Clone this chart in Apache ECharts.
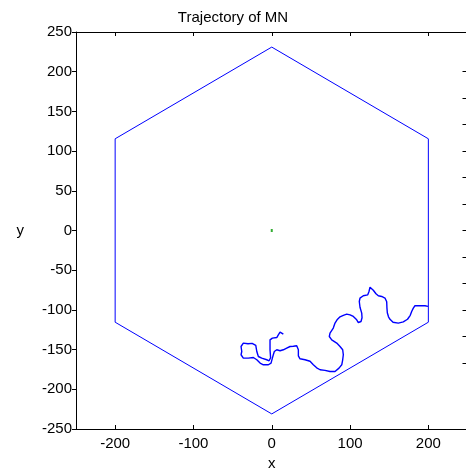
<!DOCTYPE html>
<html lang="en">
<head>
    <meta charset="utf-8">
    <title>Trajectory of MN</title>
    <script src="https://cdn.jsdelivr.net/npm/echarts@6/dist/echarts.min.js"></script>
    <style>
        html, body { margin: 0; padding: 0; background: #fff; }
        #main { width: 466px; height: 470px; }
    </style>
</head>
<body>
<div id="main"></div>
<script>
    // tick values
    var xTicks = [-200, -100, 0, 100, 200];
    var rightTicks = [-166.67, -133.33, -100, -66.67, -33.33, 0, 33.33, 66.67, 100, 133.33, 166.67, 200];

    // hexagon boundary (closed)
    var hexX = [0, 200, 200, 0, -200, -200, 0];
    var hexY = [231, 115.5, -115.5, -231, -115.5, 115.5, 231];

    // centre point
    var centreX = [0];
    var centreY = [0];

    // trajectory
    var trajX = [14.8, 10.6, 8.4, 6.4, 0.8, -2.2, -2.2, -1.5, -3.4, -6.4, -12.8, -17.1, -19.1, -20.4, -25.1, -30.3, -36.3, -39.2, -38.3, -39.2,
        -36.3, -29.9, -23.5, -19.1, -14.9, -10.7, -4.3, -0.9, 0.8, 2.0, 3.3, 6.4, 10.6, 14.8, 19.1, 23.4, 27.6, 31.9, 34.0, 34.0,
        36.1, 42.5, 48.9, 53.1, 57.4, 61.7, 68.0, 74.4, 80.8, 85.9, 89.4, 90.6, 91.4, 90.6, 87.2, 83.0, 76.6, 73.5, 74.4, 78.6,
        80.8, 83.4, 87.2, 91.4, 95.7, 100.0, 104.2, 108.5, 110.6, 114.0, 115.3, 114.9, 112.7, 111.8, 112.7, 116.9, 122.6, 124.2, 125.5, 127.7,
        129.7, 133.1, 136.1, 140.4, 144.6, 146.8, 147.1, 147.6, 149.1, 151.0, 154.9, 161.6, 168.0, 173.4, 176.9, 178.7, 180.8, 182.9, 189.3, 195.7, 199.5];
    var trajY = [-130.5, -128.0, -131.4, -134.8, -135.5, -137.7, -150.2, -160.3, -164.1, -162.8, -160.7, -158.7, -152.4, -144.8, -142.1, -142.7, -141.8, -146.1, -152.4, -156.5,
        -160.7, -160.7, -159.9, -162.8, -167.0, -169.1, -169.1, -167.0, -160.7, -156.5, -152.4, -150.2, -151.5, -150.2, -148.1, -146.1, -145.8, -145.2, -150.2, -157.8,
        -161.6, -162.8, -164.7, -169.1, -172.9, -175.4, -176.1, -177.6, -177.6, -173.3, -169.1, -162.8, -156.5, -150.2, -146.1, -141.8, -137.7, -133.5, -129.2, -122.9,
        -116.6, -112.5, -108.7, -106.8, -105.3, -106.2, -108.3, -112.5, -115.9, -114.6, -109.9, -104.0, -96.7, -89.4, -85.1, -82.2, -81.0, -76.8, -71.5, -70.9,
        -75.3, -79.7, -82.2, -83.1, -85.1, -89.8, -97.4, -103.6, -108.7, -111.8, -115.6, -116.6, -115.0, -111.8, -106.8, -102.0, -97.7, -94.8, -94.6, -94.8, -95.5];

    function pairs(xs, ys) {
        var out = [];
        for (var i = 0; i < xs.length; i++) {
            out.push([xs[i], ys[i]]);
        }
        return out;
    }

    var font = 'Liberation Sans, Arial, sans-serif';
    var myChart = echarts.init(document.getElementById('main'));
    var option = {
        animation: false,
        backgroundColor: '#fff',
        title: {
            text: 'Trajectory of MN',
            left: 'center',
            top: 5,
            textStyle: { fontFamily: font, fontSize: 15, fontWeight: 'normal', color: '#000' }
        },
        grid: {
            left: 76,
            top: 32,
            width: 391.5,
            height: 397,
            containLabel: false,
            outerBoundsMode: 'none'
        },
        xAxis: [
            {
                type: 'value',
                position: 'bottom',
                min: -250,
                max: 250,
                name: 'x',
                nameLocation: 'middle',
                nameGap: 26,
                nameTextStyle: { fontFamily: font, fontSize: 15, color: '#000' },
                axisLine: { show: true, onZero: false, lineStyle: { color: '#000', width: 1 } },
                axisTick: { show: true, inside: true, length: 4, customValues: xTicks, lineStyle: { color: '#000' } },
                axisLabel: { show: true, customValues: xTicks, margin: 7, fontFamily: font, fontSize: 15, color: '#000' },
                splitLine: { show: false }
            },
            {
                type: 'value',
                position: 'top',
                min: -250,
                max: 250,
                axisLine: { show: true, onZero: false, lineStyle: { color: '#000', width: 1 } },
                axisTick: { show: true, inside: true, length: 4, customValues: xTicks, lineStyle: { color: '#000' } },
                axisLabel: { show: false },
                splitLine: { show: false }
            }
        ],
        yAxis: [
            {
                type: 'value',
                position: 'left',
                min: -250,
                max: 250,
                interval: 50,
                name: 'y',
                nameLocation: 'middle',
                nameRotate: 0,
                nameGap: 52,
                nameTextStyle: { fontFamily: font, fontSize: 15, color: '#000' },
                axisLine: { show: true, onZero: false, lineStyle: { color: '#000', width: 1 } },
                axisTick: { show: true, inside: false, length: 4, lineStyle: { color: '#000' } },
                axisLabel: { show: true, margin: 4, fontFamily: font, fontSize: 15, color: '#000' },
                splitLine: { show: false }
            },
            {
                type: 'value',
                position: 'right',
                min: -250,
                max: 250,
                axisLine: { show: true, onZero: false, lineStyle: { color: '#000', width: 1 } },
                axisTick: { show: true, inside: true, length: 5, customValues: rightTicks, lineStyle: { color: '#000' } },
                axisLabel: { show: false },
                splitLine: { show: false }
            }
        ],
        series: [
            {
                name: 'boundary',
                type: 'line',
                data: pairs(hexX, hexY),
                showSymbol: false,
                symbol: 'none',
                lineStyle: { color: '#0000ff', width: 1 }
            },
            {
                name: 'trajectory',
                type: 'line',
                data: pairs(trajX, trajY),
                showSymbol: false,
                symbol: 'none',
                lineStyle: { color: '#0000ff', width: 1.4 }
            },
            {
                name: 'centre',
                type: 'scatter',
                data: pairs(centreX, centreY),
                symbol: 'rect',
                symbolSize: [2, 3],
                itemStyle: { color: '#009900' }
            }
        ]
    };
    myChart.setOption(option);
</script>
</body>
</html>
